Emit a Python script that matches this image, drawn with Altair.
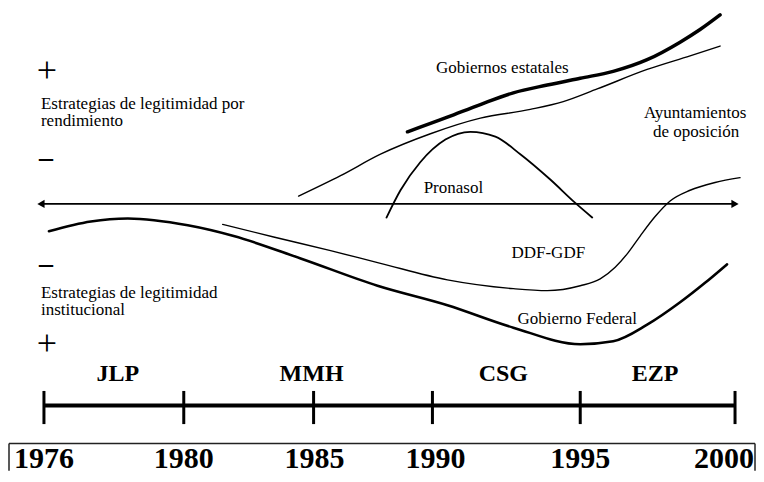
import altair as alt
import pandas as pd

# ---- Data (diagram positions, in page-pixel units) ----
gob_est_x = [407, 447, 480, 513, 547, 580, 613, 647, 680, 700, 720]
gob_est_y = [132, 117, 104, 92, 84, 77, 70, 58, 40, 27, 12]

ayunt_x = [298, 340, 380, 430, 480, 530, 563, 597, 647, 690, 720]
ayunt_y = [198, 177, 155, 134, 118, 109, 101, 88, 68, 54, 44]

pronasol_x = [386, 400, 420, 445, 470, 495, 520, 550, 575, 592]
pronasol_y = [220, 192, 163, 140, 132, 137, 155, 181, 205, 220]

ddf_x = [222, 273, 330, 380, 447, 513, 547, 580, 600, 615, 628, 640, 655, 670, 690, 715, 740]
ddf_y = [227, 240, 254, 267, 284, 293, 295, 290, 283, 271, 256, 239, 219, 203, 192, 184, 179]

fed_x = [48, 90, 127, 187, 233, 300, 377, 447, 513, 580, 613, 647, 680, 705, 727]
fed_y = [234, 224, 221, 228, 239, 262, 290, 310, 333, 350, 347, 330, 307, 287, 268]

curve_labels = ["Gobiernos estatales", "Ayuntamientos", "de oposición", "Pronasol", "DDF-GDF", "Gobierno Federal"]
curve_label_x = [502, 695, 696, 453, 548, 577]
curve_label_y = [67, 113, 132, 190, 256, 324]

side_labels = ["Estrategias de legitimidad por", "rendimiento",
               "Estrategias de legitimidad", "institucional"]
side_label_x = [40, 40, 40, 40]
side_label_y = [103, 121, 297, 315]

plus_signs = ["+", "+"]
plus_x = [46, 46]
plus_y = [70, 350]

minus_signs = ["–", "–"]
minus_x = [45, 45]
minus_y = [159, 268]

periods = ["JLP", "MMH", "CSG", "EZP"]
period_x = [117, 311, 503, 655]
period_y = [381, 381, 381, 381]

years = ["1976", "1980", "1985", "1990", "1995", "2000"]
year_x = [43, 183, 313, 432, 580, 735]
year_label_x = [43, 183, 314, 435, 580, 724]
year_label_y = [468, 468, 468, 468, 468, 468]

timeline_y = 413
tick_top, tick_bottom = 398, 432
arrow_x = [40, 735]
arrow_y = 206

box_x = [8, 755]
box_top, box_bottom = 452, 480

FONT = "Liberation Serif, Times New Roman, serif"

X = alt.Scale(domain=[8, 756], nice=False, zero=False)
Y = alt.Scale(domain=[8, 474], nice=False, zero=False, reverse=True)


def xenc(f="x"):
    return alt.X(f + ":Q", scale=X, axis=None)


def yenc(f="y"):
    return alt.Y(f + ":Q", scale=Y, axis=None)


def curve(xs, ys, width):
    df = pd.DataFrame({"x": xs, "y": ys, "o": range(len(xs))})
    return alt.Chart(df).mark_line(color="black", strokeWidth=width, interpolate="monotone",
                                   strokeCap="round").encode(x=xenc(), y=yenc(), order="o:Q")


def texts(xs, ys, ts, size, weight="normal", align="left"):
    df = pd.DataFrame({"x": xs, "y": ys, "t": ts})
    return alt.Chart(df).mark_text(font=FONT, fontSize=size, fontWeight=weight, color="black",
                                   align=align, baseline="middle").encode(
        x=xenc(), y=yenc(), text="t:N")


layers = [
    curve(gob_est_x, gob_est_y, 3.5),
    curve(ayunt_x, ayunt_y, 1.4),
    curve(pronasol_x, pronasol_y, 1.8),
    curve(ddf_x, ddf_y, 1.4),
    curve(fed_x, fed_y, 2.6),
]

# horizontal double arrow
arrow_df = pd.DataFrame({"x": [arrow_x[0]], "x2": [arrow_x[1]], "y": [arrow_y]})
layers.append(alt.Chart(arrow_df).mark_rule(color="black", strokeWidth=1.8).encode(
    x=xenc(), x2="x2:Q", y=yenc()))
heads_df = pd.DataFrame({"x": arrow_x, "y": [arrow_y, arrow_y],
                         "shape": ["triangle-left", "triangle-right"]})
layers.append(alt.Chart(heads_df).mark_point(filled=True, color="black", size=70, opacity=1).encode(
    x=xenc(), y=yenc(), shape=alt.Shape("shape:N", scale=None, legend=None)))

# timeline
tl_df = pd.DataFrame({"x": [year_x[0]], "x2": [year_x[-1]], "y": [timeline_y]})
layers.append(alt.Chart(tl_df).mark_rule(color="black", strokeWidth=4).encode(
    x=xenc(), x2="x2:Q", y=yenc()))
ticks_df = pd.DataFrame({"x": year_x, "y": [tick_top] * len(year_x), "y2": [tick_bottom] * len(year_x)})
layers.append(alt.Chart(ticks_df).mark_rule(color="black", strokeWidth=3).encode(
    x=xenc(), y=yenc(), y2="y2:Q"))

# box around the years
box_top_df = pd.DataFrame({"x": [box_x[0]], "x2": [box_x[1]], "y": [box_top]})
layers.append(alt.Chart(box_top_df).mark_rule(color="#222", strokeWidth=1.5).encode(
    x=xenc(), x2="x2:Q", y=yenc()))
box_side_df = pd.DataFrame({"x": box_x, "y": [box_top, box_top], "y2": [box_bottom, box_bottom]})
layers.append(alt.Chart(box_side_df).mark_rule(color="#222", strokeWidth=1.5).encode(
    x=xenc(), y=yenc(), y2="y2:Q"))

# texts
layers.append(texts(curve_label_x, curve_label_y, curve_labels, 17, align="center"))
layers.append(texts(side_label_x, side_label_y, side_labels, 17))
layers.append(texts(plus_x, plus_y, plus_signs, 36, align="center"))
layers.append(texts(minus_x, minus_y, minus_signs, 28, weight="bold", align="center"))
layers.append(texts(period_x, period_y, periods, 24, weight="bold", align="center"))
layers.append(texts(year_label_x, year_label_y, years, 30, weight="bold", align="center"))

chart = alt.layer(*layers).properties(
    width=748, height=466,
    autosize=alt.AutoSizeParams(type="fit", contains="padding"),
    padding=0,
    background="white",
).configure_view(strokeWidth=0)

chart.save("out.html", embed_options={"renderer": "svg", "actions": False})
